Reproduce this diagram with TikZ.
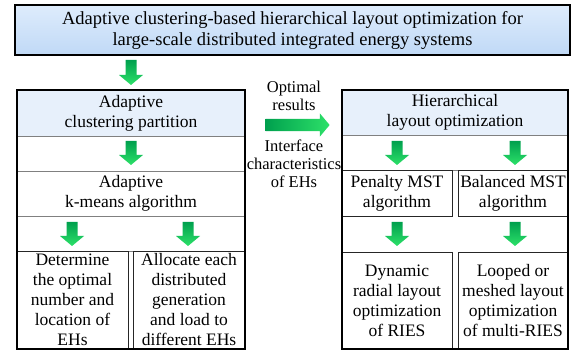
\documentclass[tikz,border=0pt]{standalone}
\usepackage{fontspec}
\setmainfont{Liberation Serif}
\usetikzlibrary{shapes.arrows}
\definecolor{gdark}{RGB}{0,160,78}
\definecolor{glight}{RGB}{45,225,105}
\definecolor{ttop}{RGB}{222,236,252}
\definecolor{tbot}{RGB}{192,217,246}
\definecolor{hdr}{RGB}{231,240,251}
\definecolor{divgray}{RGB}{128,128,128}
\tikzset{
  txt/.style={font=\fontsize{17.5pt}{20pt}\selectfont, align=center, inner sep=0pt},
  lbl/.style={font=\fontsize{16.5pt}{18pt}\selectfont, align=center, inner sep=0pt},
  titlebox/.style={draw=black, line width=2pt, top color=ttop, bottom color=tbot,
    font=\fontsize{18.5pt}{21pt}\selectfont, align=center, inner sep=0pt},
  hdrbox/.style={fill=hdr, draw=none, txt},
  rowbox/.style={draw=divgray, line width=0.8pt, txt},
  subbox/.style={draw=black!85, line width=0.9pt, txt},
  outerbox/.style={draw=black, line width=1.6pt, fill=none},
  greenfill/.style={draw=none, top color=gdark, bottom color=glight},
  rarrow/.style={shape=single arrow, inner xsep=0pt, inner ysep=6pt,
    single arrow head extend=5.5pt, single arrow tip angle=100, minimum height=64pt,
    draw=none, left color=gdark, right color=glight}
}
% down block arrow: centre x, top y, length
\newcommand\gdownarrow[3]{%
  \path[greenfill] (#1-5.5,#2) -- (#1+5.5,#2) -- (#1+5.5,#2-#3+10) -- (#1+12,#2-#3+10)
    -- (#1,#2-#3) -- (#1-12,#2-#3+10) -- (#1-5.5,#2-#3+10) -- cycle;}
\begin{document}
\begin{tikzpicture}[x=1pt,y=1pt]
\useasboundingbox (0,0) rectangle (572,-352);
% title
\node[titlebox, minimum width=555pt, minimum height=50pt] (title) at (292.5,-30)
  {Adaptive clustering-based hierarchical layout optimization for\\large-scale distributed integrated energy systems};
\gdownarrow{131}{-60}{25}
% left column
\node[hdrbox, minimum width=228pt, minimum height=46pt] (lhdr) at (131,-113)
  {Adaptive\\clustering partition};
\node[rowbox, minimum width=228pt, minimum height=35pt] (lrow1) at (131,-153.5) {};
\gdownarrow{131}{-141}{24}
\node[rowbox, minimum width=228pt, minimum height=45pt] (lkm) at (131,-193.5)
  {Adaptive\\k-means algorithm};
\node[rowbox, minimum width=228pt, minimum height=35pt] (lrow2) at (131,-233.5) {};
\gdownarrow{72}{-222}{24}
\gdownarrow{188}{-222}{24}
\node[subbox, minimum width=111pt, minimum height=98pt] (ldet) at (72.5,-300)
  {Determine\\the optimal\\number and\\location of\\EHs};
\node[subbox, minimum width=112pt, minimum height=98pt] (lall) at (189,-300)
  {Allocate each\\distributed\\generation\\and load to\\different EHs};
\node[outerbox, minimum width=228pt, minimum height=259pt] (lbox) at (131,-219.5) {};
% middle
\node[lbl] (opt) at (294,-96) {Optimal\\results};
\node[rarrow] (ha) at (295,-125) {};
\node[lbl] (intf) at (294,-164) {Interface\\characteristics\\of EHs};
% right column
\node[hdrbox, minimum width=226pt, minimum height=45pt] (rhdr) at (455,-112.5)
  {Hierarchical\\layout optimization};
\node[rowbox, minimum width=226pt, minimum height=35pt] (rrow1) at (455,-152.5) {};
\gdownarrow{397}{-141}{24}
\gdownarrow{515}{-141}{24}
\node[subbox, minimum width=110pt, minimum height=46pt] (pen) at (397,-193)
  {Penalty MST\\algorithm};
\node[subbox, minimum width=110pt, minimum height=46pt] (bal) at (513,-193)
  {Balanced MST\\algorithm};
\gdownarrow{397}{-222}{24}
\gdownarrow{515}{-222}{24}
\node[subbox, minimum width=110pt, minimum height=97pt] (dyn) at (397,-300.5)
  {Dynamic\\radial layout\\optimization\\of RIES};
\node[subbox, minimum width=110pt, minimum height=97pt] (loop) at (513,-300.5)
  {Looped or\\meshed layout\\optimization\\of multi-RIES};
\node[outerbox, minimum width=226pt, minimum height=259pt] (rbox) at (455,-219.5) {};
\end{tikzpicture}
\end{document}
